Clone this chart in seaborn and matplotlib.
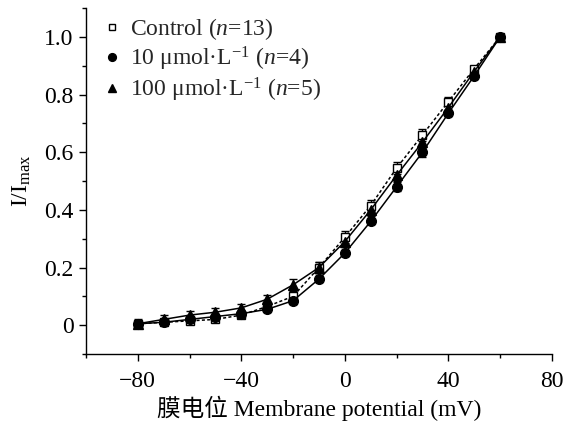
import numpy as np
import pandas as pd
import matplotlib
matplotlib.use('Agg')
import matplotlib.pyplot as plt
import seaborn as sns
from matplotlib.ticker import MultipleLocator, FuncFormatter

# Données
voltage = [-80, -70, -60, -50, -40, -30, -20, -10, 0, 10, 20, 30, 40, 50, 60]
control = [0.005, 0.01, 0.015, 0.02, 0.035, 0.065, 0.10, 0.20, 0.305, 0.415, 0.545, 0.66, 0.775, 0.89, 1.0]
conc_10 = [0.005, 0.01, 0.02, 0.03, 0.04, 0.055, 0.085, 0.16, 0.25, 0.36, 0.48, 0.60, 0.735, 0.865, 1.0]
conc_100 = [0.005, 0.02, 0.035, 0.045, 0.06, 0.09, 0.14, 0.20, 0.29, 0.40, 0.52, 0.635, 0.755, 0.88, 1.0]
err_control = [0.01, 0.01, 0.01, 0.01, 0.01, 0.01, 0.015, 0.02, 0.02, 0.02, 0.02, 0.02, 0.015, 0.01, 0.0]
err_10 = [0.01, 0.01, 0.01, 0.01, 0.01, 0.01, 0.01, 0.01, 0.01, 0.01, 0.015, 0.015, 0.01, 0.01, 0.0]
err_100 = [0.015, 0.015, 0.015, 0.015, 0.015, 0.015, 0.02, 0.02, 0.02, 0.02, 0.02, 0.02, 0.015, 0.01, 0.0]

labels = ['Control ($n$=13)',
          '10 μmol·L$^{-1}$ ($n$=4)',
          '100 μmol·L$^{-1}$ ($n$=5)']

sns.set_theme(style='ticks')
plt.rcParams['font.family'] = ['Liberation Serif', 'Noto Sans CJK SC']
plt.rcParams['mathtext.fontset'] = 'custom'
plt.rcParams['mathtext.rm'] = 'Liberation Serif'
plt.rcParams['mathtext.it'] = 'Liberation Serif:italic'
plt.rcParams['axes.unicode_minus'] = True

df = pd.DataFrame({
    'V': voltage * 3,
    'I': control + conc_10 + conc_100,
    'err': err_control + err_10 + err_100,
    'groupe': [labels[0]] * 15 + [labels[1]] * 15 + [labels[2]] * 15,
})

fig = plt.figure(figsize=(5.66, 4.26), dpi=100)
ax = fig.add_axes([0.152, 0.169, 0.823, 0.812])

styles = {
    labels[0]: dict(marker='s', mfc='white', ls=(0, (2, 1.5)), ms=6),
    labels[1]: dict(marker='o', mfc='black', ls='-', ms=7),
    labels[2]: dict(marker='^', mfc='black', ls='-', ms=7.5),
}

for lab in labels:
    sub = df[df['groupe'] == lab]
    st = styles[lab]
    ax.errorbar(sub['V'], sub['I'], yerr=sub['err'], fmt='none', ecolor='black',
                elinewidth=1, capsize=3, capthick=1, zorder=2)
    sns.lineplot(data=sub, x='V', y='I', ax=ax, color='black', lw=1.1,
                 linestyle=st['ls'], marker=st['marker'], markersize=st['ms'],
                 markerfacecolor=st['mfc'], markeredgecolor='black',
                 markeredgewidth=1, label=lab, zorder=3)

ax.set_xlim(-100, 80)
ax.set_ylim(-0.1, 1.1)
ax.xaxis.set_major_locator(MultipleLocator(40))
ax.xaxis.set_minor_locator(MultipleLocator(20))
ax.yaxis.set_major_locator(MultipleLocator(0.2))
ax.yaxis.set_minor_locator(MultipleLocator(0.1))
ax.yaxis.set_major_formatter(FuncFormatter(lambda v, p: '0' if abs(v) < 1e-9 else f'{v:.1f}'))
ax.xaxis.set_major_formatter(FuncFormatter(lambda v, p: f'{v:.0f}'.replace('-', '\u2212')))

ax.tick_params(which='both', direction='out', colors='black', width=1, labelsize=17)
ax.tick_params(which='major', length=5)
ax.tick_params(axis='x', which='major', pad=7)
ax.tick_params(axis='y', which='major', pad=4)
ax.tick_params(which='minor', length=3)
for s in ['top', 'right']:
    ax.spines[s].set_visible(False)
for s in ['left', 'bottom']:
    ax.spines[s].set_color('black')
    ax.spines[s].set_linewidth(1)

ax.set_xlabel('膜电位 Membrane potential (mV)', fontsize=17, color='black', labelpad=3)
ax.set_ylabel('I/I$_{\\mathrm{max}}$', fontsize=17, color='black', labelpad=8)

handles, labs = ax.get_legend_handles_labels()
leg_handles = []
for h, lab in zip(handles, labs):
    h2 = plt.Line2D([], [], color='black', ls='none', marker=h.get_marker(),
                    markersize=h.get_markersize() * 0.8, markerfacecolor=h.get_markerfacecolor(),
                    markeredgecolor='black')
    leg_handles.append(h2)
ax.legend(leg_handles, labs, loc='upper left', frameon=False, fontsize=17,
          handletextpad=0.25, handlelength=1.0, borderaxespad=0.0, labelspacing=0.12,
          bbox_to_anchor=(0.01, 1.005))

fig.savefig('out.png', dpi=100)
